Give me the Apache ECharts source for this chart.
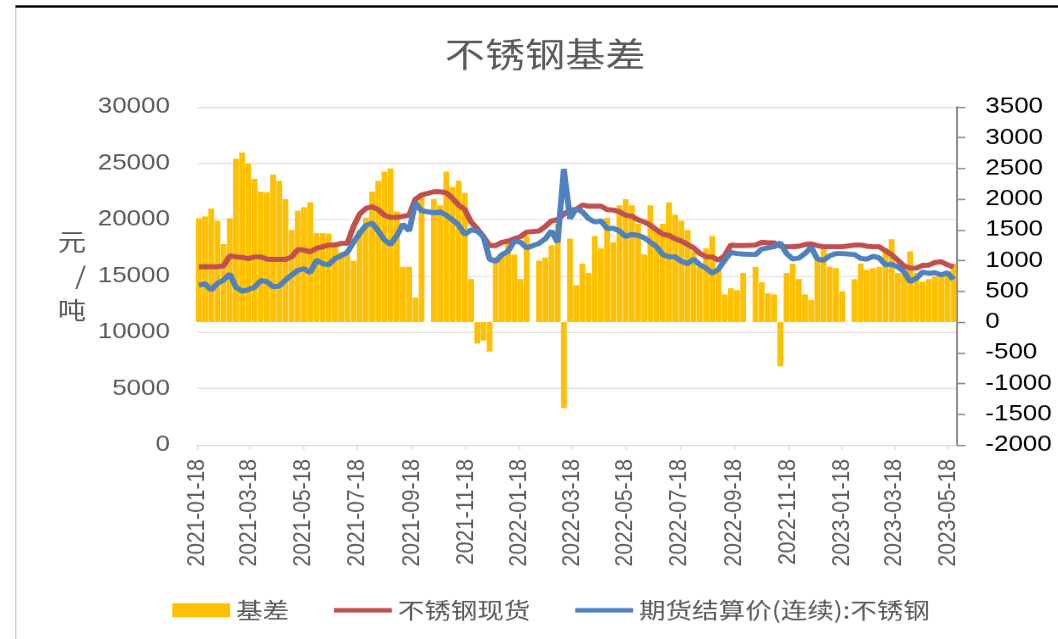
<!DOCTYPE html>
<html><head><meta charset="utf-8">
<script src="https://cdn.jsdelivr.net/npm/echarts@6/dist/echarts.min.js"></script>
<style>
html,body{margin:0;padding:0;background:#fff;overflow:hidden}
#wrap{width:1058px;height:639px;overflow:hidden;position:relative}
#c{width:897px;height:639px;transform:scaleX(1.1795);transform-origin:0 0}
</style></head>
<body><div id="wrap"><div id="c"></div></div>
<script>
const weekDates = [
'2021-01-20','2021-01-27','2021-02-03','2021-02-10','2021-02-17','2021-02-24','2021-03-03','2021-03-10','2021-03-17','2021-03-24',
'2021-03-31','2021-04-07','2021-04-14','2021-04-21','2021-04-28','2021-05-05','2021-05-12','2021-05-19','2021-05-26','2021-06-02',
'2021-06-09','2021-06-16','2021-06-23','2021-06-30','2021-07-07','2021-07-14','2021-07-21','2021-07-28','2021-08-04','2021-08-11',
'2021-08-18','2021-08-25','2021-09-01','2021-09-08','2021-09-15','2021-09-22','2021-09-29','2021-10-06','2021-10-13','2021-10-20',
'2021-10-27','2021-11-03','2021-11-10','2021-11-17','2021-11-24','2021-12-01','2021-12-08','2021-12-15','2021-12-22','2021-12-29',
'2022-01-05','2022-01-12','2022-01-19','2022-01-26','2022-02-02','2022-02-09','2022-02-16','2022-02-23','2022-03-02','2022-03-09',
'2022-03-16','2022-03-23','2022-03-30','2022-04-06','2022-04-13','2022-04-20','2022-04-27','2022-05-04','2022-05-11','2022-05-18',
'2022-05-25','2022-06-01','2022-06-08','2022-06-15','2022-06-22','2022-06-29','2022-07-06','2022-07-13','2022-07-20','2022-07-27',
'2022-08-03','2022-08-10','2022-08-17','2022-08-24','2022-08-31','2022-09-07','2022-09-14','2022-09-21','2022-09-28','2022-10-05',
'2022-10-12','2022-10-19','2022-10-26','2022-11-02','2022-11-09','2022-11-16','2022-11-23','2022-11-30','2022-12-07','2022-12-14',
'2022-12-21','2022-12-28','2023-01-04','2023-01-11','2023-01-18','2023-01-25','2023-02-01','2023-02-08','2023-02-15','2023-02-22',
'2023-03-01','2023-03-08','2023-03-15','2023-03-22','2023-03-29','2023-04-05','2023-04-12','2023-04-19','2023-04-26','2023-05-03',
'2023-05-10','2023-05-17','2023-05-24'
];
const basis = [
1690,1720,1850,1650,1270,1690,2660,2760,2580,2330,
2120,2110,2400,2300,2000,1500,1810,1870,1950,1450,
1450,1440,1300,1140,1100,1000,1500,1700,2120,2300,
2450,2500,1800,900,900,400,2100,null,2000,1900,
2450,2200,2300,2100,700,-350,-300,-480,1060,1100,
1300,1100,700,1400,null,1000,1050,1250,1600,-1400,
1360,600,950,800,1400,1200,1700,1300,1900,2000,
1900,1600,1100,1900,1500,1600,1950,1750,1650,1500,
1150,900,1200,1400,850,450,550,520,800,null,
900,650,470,450,-720,800,950,700,450,360,
1000,1250,900,880,500,null,700,950,850,880,
900,1200,1350,800,800,1150,800,660,700,740,
780,760,950
];
const spot = [
15825,15825,15825,15825,15900,16800,16700,16650,16550,16700,
16700,16500,16480,16480,16480,16700,17350,17300,17150,17450,
17600,17750,17750,17900,17900,19400,20500,21000,21150,20900,
20400,20200,20200,20300,20400,21800,22200,null,22480,22480,
22400,21900,21300,20900,19800,19200,18500,17700,17700,18000,
18100,18300,18500,18900,null,19000,19400,19900,20000,20500,
20860,20900,21300,21200,21200,21200,20900,20850,20700,20400,
20300,20000,19800,19500,19100,18700,18600,18300,18100,17800,
17500,17000,16700,16700,16400,16800,17750,17700,17700,null,
17750,18000,17950,17950,17650,17600,17600,17650,17800,17850,
17700,17600,17600,17600,17600,null,17750,17750,17650,17600,
17600,17250,16900,16400,15900,15700,15700,15950,15975,16200,
16270,16000,15800
];
const futures = [
14200,14300,13760,14350,14640,15200,14000,13650,13800,14000,
14600,14500,14050,14100,14640,15090,15500,15650,15300,16400,
16100,16000,16550,16800,17100,18000,18800,19500,19700,19000,
18200,17800,18600,19600,19000,21500,20800,null,20600,20700,
20400,20000,19500,18700,19100,19000,18500,16500,16300,16900,
17200,18100,18000,17500,null,17900,18300,19000,18000,24500,
20100,21000,20700,20100,19800,19900,19230,19230,19000,18500,
18700,18600,18400,18000,17600,16900,16700,16700,16300,16100,
16500,16000,15700,15250,15600,16400,17100,17000,16950,null,
16900,17400,17500,17600,17950,17000,16500,16600,17000,17550,
16500,16400,16800,17000,17000,null,16900,16570,16500,16750,
16600,16000,16050,15800,15400,14500,14800,15350,15240,15300,
15100,15300,14700
];
const tickLabels = ['2021-01-18','2021-03-18','2021-05-18','2021-07-18','2021-09-18','2021-11-18',
'2022-01-18','2022-03-18','2022-05-18','2022-07-18','2022-09-18','2022-11-18',
'2023-01-18','2023-03-18','2023-05-18'];

function ts(s){const p=s.split('-').map(Number);return new Date(p[0],p[1]-1,p[2]).getTime();}
function fmt(v){const d=new Date(v);const m=d.getMonth()+1,dd=d.getDate();return d.getFullYear()+'-'+(m<10?'0':'')+m+'-'+(dd<10?'0':'')+dd;}
const tickTs = tickLabels.map(ts);
const pair = arr => weekDates.map((d,i)=>[ts(d), arr[i]]);
const plain = v => String(v);

const chart = echarts.init(document.getElementById('c'), null, {renderer:'canvas', devicePixelRatio:1.18});
const grey = '#595959';
const lineIcon = 'path://M0 0H100V9H0Z';
chart.setOption({
  animation:false,
  backgroundColor:'#fff',
  title:{text:'不锈钢基差', left:372, top:32,
    textStyle:{fontSize:34, fontWeight:'normal', color:grey, fontFamily:'Noto Sans CJK SC'}},
  legend:{left:141, top:594, itemWidth:49, itemHeight:14, itemGap:38,
    textStyle:{fontSize:22.5, color:grey, fontFamily:'Noto Sans CJK SC'},
    data:[{name:'基差', icon:'rect'},
          {name:'不锈钢现货', icon:lineIcon},
          {name:'期货结算价(连续):不锈钢', icon:lineIcon}]},
  grid:{left:167, right:86, top:107, bottom:194},
  graphic:[
    {type:'line', shape:{x1:13, y1:6.5, x2:897, y2:6.5}, style:{stroke:'#000', lineWidth:2.2}},
    {type:'line', shape:{x1:13.3, y1:8, x2:13.3, y2:639}, style:{stroke:'#cfcfcf', lineWidth:1.2}}
  ],
  xAxis:{type:'value', min:ts('2021-01-18'), max:ts('2023-05-28'),
    axisLine:{show:true, lineStyle:{color:'#d9d9d9', width:1}},
    axisTick:{show:true, customValues:tickTs, length:5, lineStyle:{color:'#d9d9d9'}},
    axisLabel:{customValues:tickTs, rotate:90, margin:14, fontSize:21, color:grey,
      fontFamily:'Liberation Sans', formatter:fmt},
    splitLine:{show:false}},
  yAxis:[
    {type:'value', min:0, max:30000, interval:5000, position:'left',
      name:'元\n/\n吨', nameLocation:'middle', nameRotate:0, nameGap:94,
      nameTextStyle:{fontSize:24, lineHeight:34, color:grey, fontFamily:'Noto Sans CJK SC'},
      axisLine:{show:false}, axisTick:{show:false},
      axisLabel:{fontSize:22, color:grey, margin:23, fontFamily:'Liberation Sans', formatter:plain},
      splitLine:{show:true, lineStyle:{color:'#d9d9d9', width:1}}},
    {type:'value', min:-2000, max:3500, interval:500, position:'right',
      axisLine:{show:true, lineStyle:{color:'#888', width:1.6}},
      axisTick:{show:true, length:7, inside:false, lineStyle:{color:'#888', width:1.4}},
      axisLabel:{fontSize:22, color:'#000', margin:24, fontFamily:'Liberation Sans', formatter:plain},
      splitLine:{show:false}}
  ],
  series:[
    {type:'bar', name:'基差', yAxisIndex:1, barWidth:4.9, itemStyle:{color:'#FFC000'}, data:pair(basis)},
    {type:'line', name:'不锈钢现货', yAxisIndex:0, symbol:'none', showSymbol:false, connectNulls:true,
      lineStyle:{width:5, color:'#C0504D'}, itemStyle:{color:'#C0504D'}, data:pair(spot)},
    {type:'line', name:'期货结算价(连续):不锈钢', yAxisIndex:0, symbol:'none', showSymbol:false, connectNulls:true,
      lineStyle:{width:5, color:'#4F81BD'}, itemStyle:{color:'#4F81BD'}, data:pair(futures)}
  ]
});
</script>
</body></html>
